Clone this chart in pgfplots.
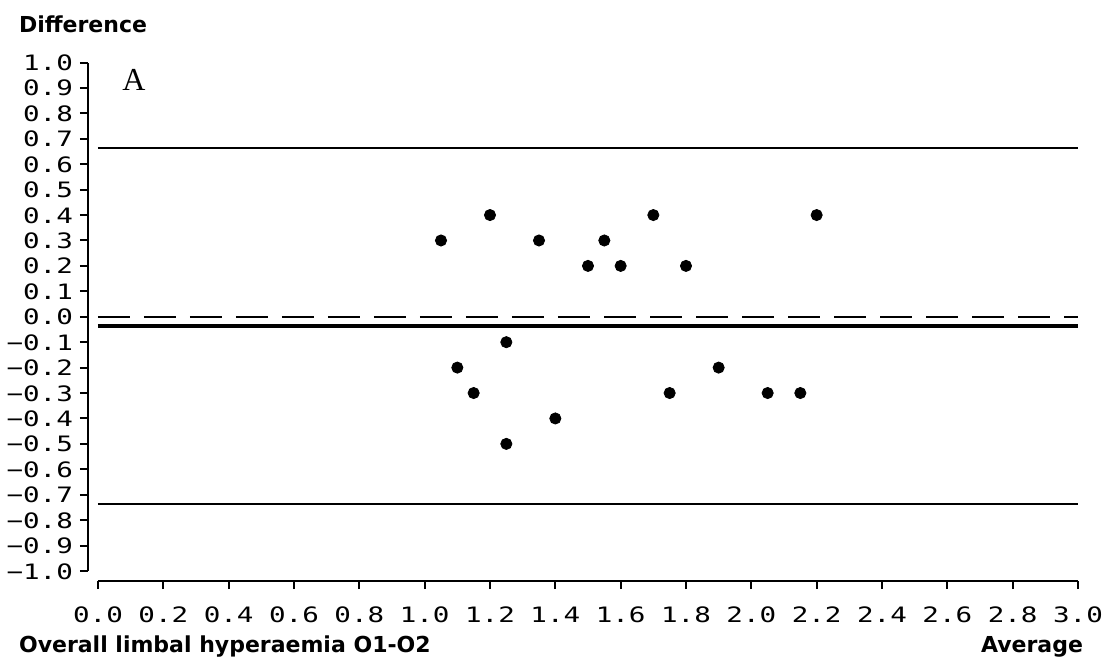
\documentclass[border=0pt]{standalone}
\usepackage{fontspec}
\usepackage{pgfplots}
\pgfplotsset{compat=1.18}
\newfontfamily\tickfont[FakeStretch=1.3]{DejaVu Sans Mono}
\newfontfamily\labfont{DejaVu Sans}
\newfontfamily\serfont{Liberation Serif}

\pgfplotstableread{
x y
1.05 0.3
1.10 -0.2
1.15 -0.3
1.20 0.4
1.25 -0.1
1.25 -0.5
1.35 0.3
1.40 -0.4
1.50 0.2
1.55 0.3
1.60 0.2
1.70 0.4
1.75 -0.3
1.80 0.2
1.90 -0.2
2.05 -0.3
2.15 -0.3
2.20 0.4
}\pts

\begin{document}
\begin{tikzpicture}
\begin{axis}[
  scale only axis, width=490pt, height=254.25pt,
  xmin=0, xmax=3, ymin=-1, ymax=1,
  axis x line*=bottom, axis y line*=left,
  axis x line shift=5pt, axis y line shift=5pt,
  axis line style={line width=1pt},
  tick align=outside, major tick length=4pt,
  every tick/.style={line width=1pt, black},
  xtick={0,0.2,0.4,0.6,0.8,1.0,1.2,1.4,1.6,1.8,2.0,2.2,2.4,2.6,2.8,3.0},
  xticklabels={0.0,0.2,0.4,0.6,0.8,1.0,1.2,1.4,1.6,1.8,2.0,2.2,2.4,2.6,2.8,3.0},
  ytick={-1,-0.9,-0.8,-0.7,-0.6,-0.5,-0.4,-0.3,-0.2,-0.1,0,0.1,0.2,0.3,0.4,0.5,0.6,0.7,0.8,0.9,1},
  yticklabels={−1.0,−0.9,−0.8,−0.7,−0.6,−0.5,−0.4,−0.3,−0.2,−0.1,0.0,0.1,0.2,0.3,0.4,0.5,0.6,0.7,0.8,0.9,1.0},
  ticklabel style={font=\fontsize{10.6}{12}\tickfont},
  xticklabel style={yshift=-5pt, text height=8pt, text depth=0pt},
  yticklabel style={text height=8pt, text depth=0pt},
  clip=false,
]
\addplot[black, line width=1pt] coordinates {(0,0.665) (3,0.665)};
\addplot[black, line width=1pt] coordinates {(0,-0.735) (3,-0.735)};
\addplot[black, line width=2pt] coordinates {(0,-0.035) (3,-0.035)};
\addplot[black, line width=1pt, dash pattern=on 16pt off 7pt] coordinates {(0,0) (3,0)};
\addplot[only marks, mark=*, mark size=2.8pt, black] table[x=x, y=y] {\pts};
\node[font=\fontsize{16}{18}\serfont] at (axis cs:0.11,0.93) {A};
\end{axis}
\node[anchor=base west, font=\fontsize{11}{12}\labfont\bfseries] at (-43pt,269.2pt) {Difference};
\node[anchor=base west, font=\fontsize{11}{12}\labfont\bfseries] at (-43pt,-40.8pt) {Overall limbal hyperaemia O1-O2};
\node[anchor=base east, font=\fontsize{11}{12}\labfont\bfseries] at (496pt,-40.8pt) {Average};
\pgfresetboundingbox
\path[use as bounding box] (-49pt,-47.5pt) rectangle (503.5pt,285.5pt);
\end{tikzpicture}
\end{document}
